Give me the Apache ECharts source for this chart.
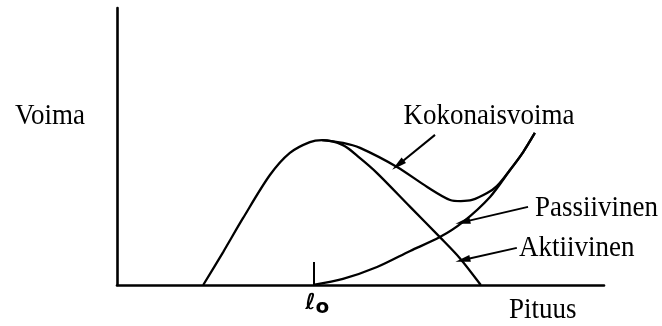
<!DOCTYPE html>
<html>
<head>
<meta charset="utf-8">
<script src="https://cdn.jsdelivr.net/npm/echarts@6/dist/echarts.min.js"></script>
<style>
  html, body { margin: 0; padding: 0; background: #fff; }
  #chart { width: 662px; height: 326px; }
</style>
</head>
<body>
<div id="chart"></div>
<script>
// Length–tension relation of skeletal muscle (schematic units: length 0–100, force 0–100)
const restLength = 40.3; // l0, resting length

// Active (contractile) force
const activeForce = [
  [17.7, 0], [21.8, 11.9], [25.9, 24.2], [31.4, 39.7], [35.5, 47.7],
  [39.6, 51.6], [42.1, 52.3], [46.4, 50.5], [49.9, 45.8], [53.4, 40.4],
  [60.2, 28.2], [66.3, 17.3], [70.4, 9.7], [74.7, 0]
];

// Passive (elastic) force, rising from the resting length
const passiveForce = [
  [40.3, 0], [46.4, 2.2], [53.4, 6.5], [60.2, 12.3], [66.3, 17.3],
  [71.0, 22.7], [76.6, 31.8], [80.7, 41.5], [83.4, 48.0], [85.8, 54.9]
];

// Total force = active + passive (drawn from the active peak onward)
const totalForce = [
  [42.1, 52.3], [46.4, 51.3], [49.9, 49.5], [57.5, 42.6], [63.7, 35.4],
  [68.4, 30.7], [70.6, 30.3], [72.9, 30.7], [76.0, 33.2], [78.0, 35.7],
  [80.7, 41.5], [83.4, 48.0], [85.8, 54.9]
];

// Pointer arrows: [from, to] in length/force units
const pointerArrows = [
  [[65.3, 54.2], [57.7, 43.3]],   // Kokonaisvoima
  [[84.4, 28.2], [71.0, 22.7]],   // Passiivinen
  [[82.1, 13.4], [71.0, 9.0]]     // Aktiivinen
];

const serif = '"Liberation Serif", "Times New Roman", serif';
const ink = '#000';

const chart = echarts.init(document.getElementById('chart'), null, { renderer: 'canvas' });

function curve(name, data) {
  return {
    name: name,
    type: 'line',
    data: data,
    smooth: 0.3,
    showSymbol: false,
    symbol: 'none',
    silent: true,
    lineStyle: { color: ink, width: 2.3 },
    z: 3
  };
}

function textEl(str, x, y, align) {
  return {
    type: 'text',
    x: x,
    y: y,
    scaleY: 1.1,
    silent: true,
    style: {
      text: str,
      font: '27px ' + serif,
      fill: ink,
      textAlign: align || 'left',
      textVerticalAlign: 'middle'
    }
  };
}

chart.setOption({
  backgroundColor: '#fff',
  animation: false,
  grid: { left: 117, right: 58, top: 8, bottom: 41 },
  xAxis: {
    type: 'value',
    min: 0,
    max: 100,
    splitLine: { show: false },
    axisLine: { show: true, lineStyle: { color: ink, width: 2.6 } },
    axisTick: {
      show: true,
      inside: true,
      length: 23,
      customValues: [restLength],
      lineStyle: { color: ink, width: 2 }
    },
    axisLabel: {
      show: true,
      customValues: [restLength],
      margin: 4,
      formatter: function () { return '{l|ℓ}{o|o}'; },
      rich: {
        l: { fontFamily: '"DejaVu Sans", sans-serif', fontSize: 22, fontWeight: 'bold', color: ink, padding: [0, 0, 0, 8] },
        o: { fontFamily: '"DejaVu Sans", sans-serif', fontSize: 20, fontWeight: 'bold', color: ink, padding: [9, 0, 0, 0] }
      }
    }
  },
  yAxis: {
    type: 'value',
    min: 0,
    max: 100,
    splitLine: { show: false },
    axisLine: { show: true, lineStyle: { color: ink, width: 2.6 } },
    axisTick: { show: false },
    axisLabel: { show: false }
  },
  series: [
    curve('Aktiivinen', activeForce),
    curve('Passiivinen', passiveForce),
    curve('Kokonaisvoima', totalForce),
    {
      name: 'nuolet',
      type: 'line',
      data: [],
      silent: true,
      markLine: {
        silent: true,
        animation: false,
        symbol: ['none', 'triangle'],
        symbolSize: [7, 15],
        label: { show: false },
        lineStyle: { color: ink, width: 2, type: 'solid' },
        emphasis: { disabled: true },
        data: pointerArrows.map(function (a) {
          return [{ coord: a[0] }, { coord: a[1] }];
        })
      }
    }
  ],
  graphic: [
    textEl('Voima', 15, 116),
    textEl('Kokonaisvoima', 489, 116, 'center'),
    textEl('Passiivinen', 535, 208),
    textEl('Aktiivinen', 519, 248),
    textEl('Pituus', 509, 310)
  ]
});
</script>
</body>
</html>
